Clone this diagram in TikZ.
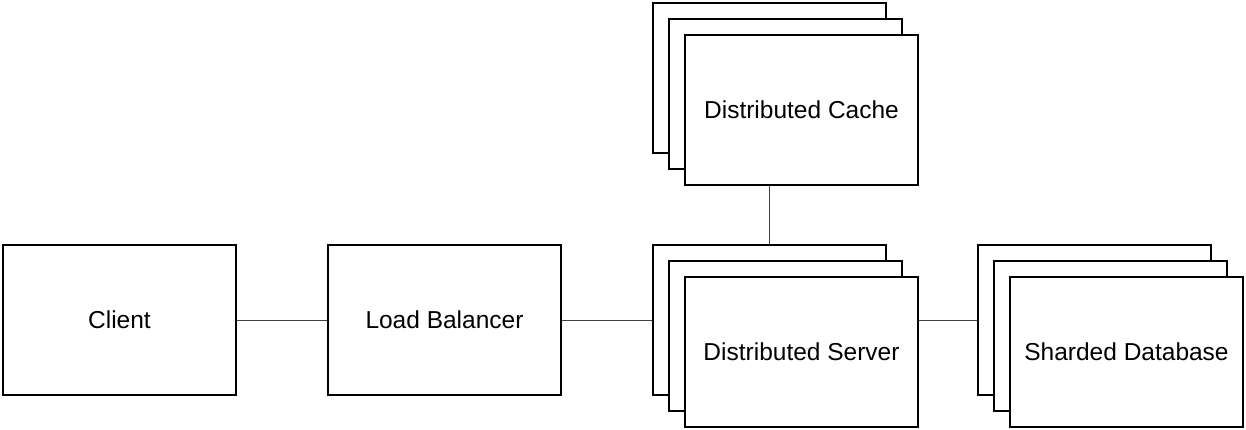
\documentclass[tikz,border=0pt]{standalone}
\usepackage{fontspec}
\setmainfont{Liberation Sans}
\usetikzlibrary{backgrounds}
\begin{document}
\begin{tikzpicture}[x=1pt,y=-1pt,
  box/.style={draw=black,fill=white,line width=2pt,minimum width=233pt,minimum height=150pt,inner sep=0pt,
    font=\fontsize{24.5}{28}\selectfont},
  link/.style={draw=black!75,line width=0.9pt}]
\useasboundingbox (0,0) rectangle (1246,429);
% single boxes
\node[box] (client) at (119.5,320) {Client};
\node[box] (lb) at (444.5,320) {Load Balancer};
% cache stack
\node[box] (cache1) at (769.5,78) {};
\node[box] (cache2) at (785.5,94) {};
\node[box] (cache3) at (801.5,110) {Distributed Cache};
% server stack
\node[box] (srv1) at (769.5,320) {};
\node[box] (srv2) at (785.5,336) {};
\node[box] (srv3) at (801.5,352) {Distributed Server};
% database stack
\node[box] (db1) at (1094.5,320) {};
\node[box] (db2) at (1110.5,336) {};
\node[box] (db3) at (1126.5,352) {Sharded Database};
\begin{pgfonlayer}{background}
\draw[link] (client.east) -- (lb.west);
\draw[link] (lb.east) -- (srv1.west);
\draw[link] (cache1.south) -- (srv1.north);
\draw[link] (srv3.east |- srv1.east) -- (db1.west);
\end{pgfonlayer}
\end{tikzpicture}
\end{document}
